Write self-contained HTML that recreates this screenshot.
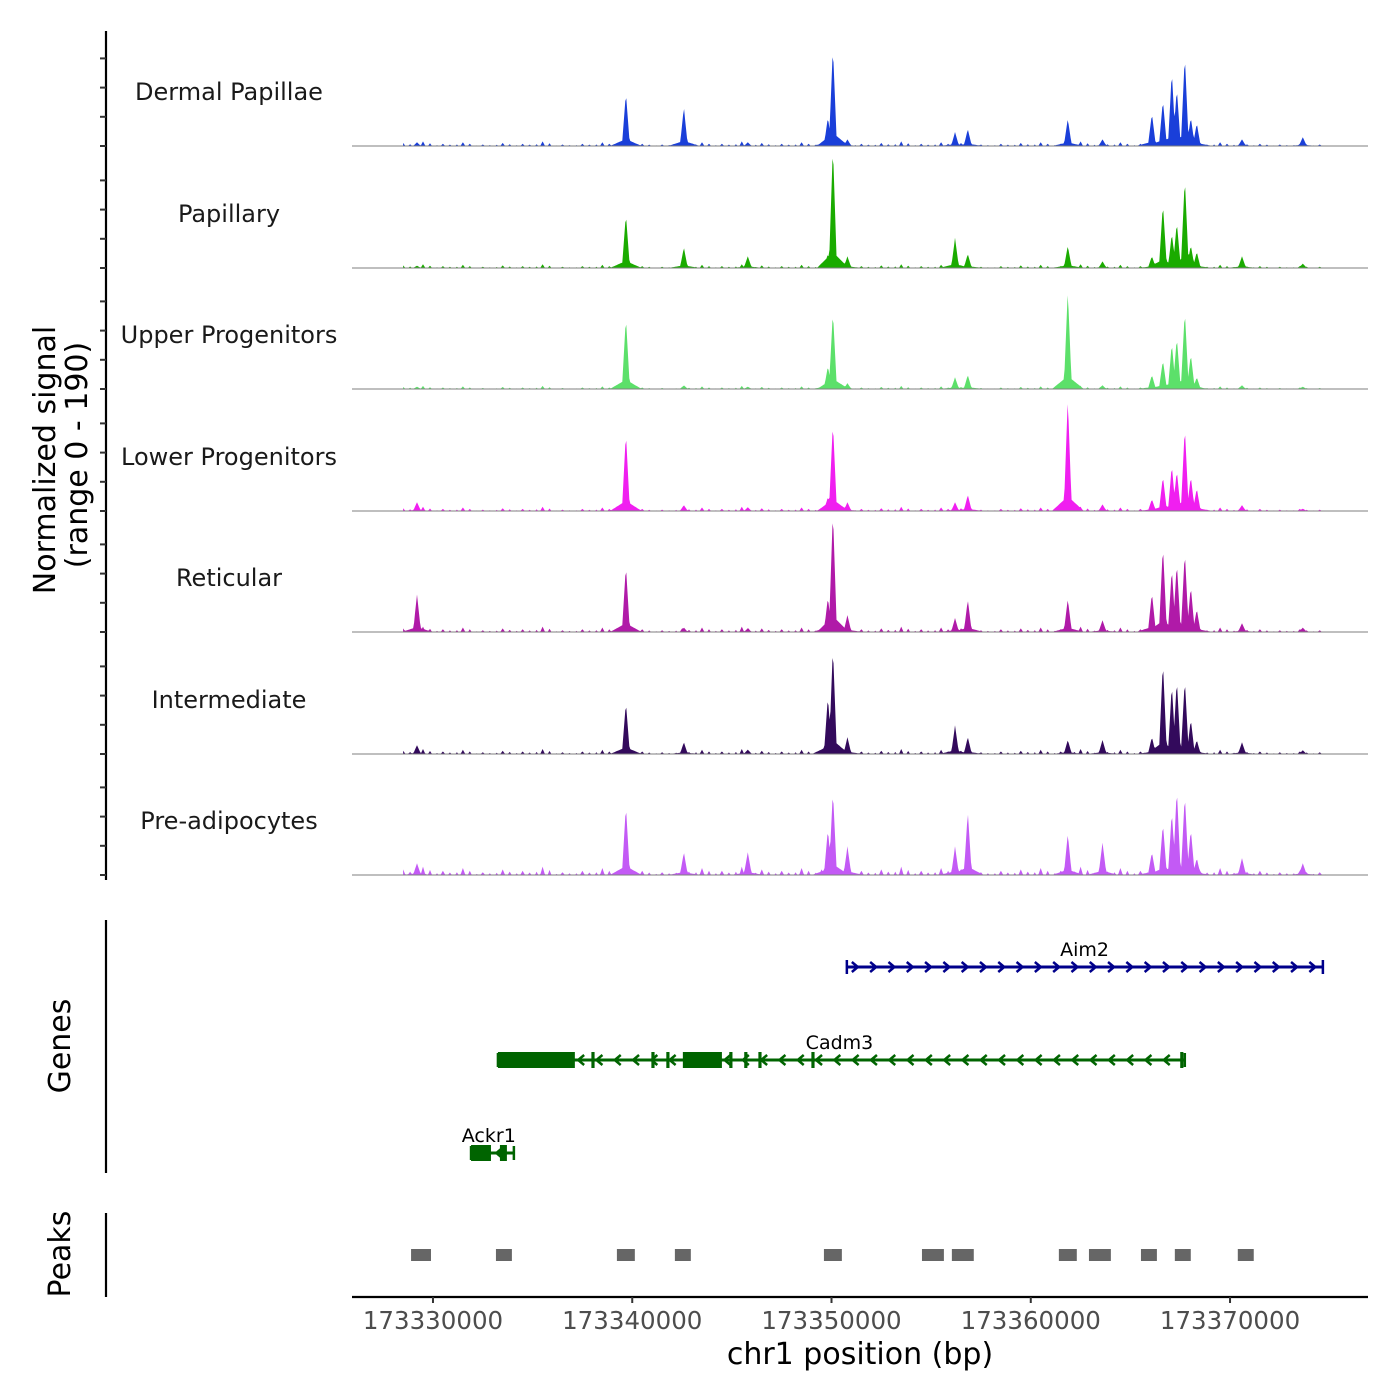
<!DOCTYPE html>
<html><head><meta charset="utf-8">
<style>
html,body{margin:0;padding:0;background:#fff;}
svg{display:block;font-family:"DejaVu Sans","Liberation Sans",sans-serif;}
</style></head>
<body>
<svg id="chart" width="1400" height="1400" viewBox="0 0 1400 1400" xmlns="http://www.w3.org/2000/svg">
<rect width="1400" height="1400" fill="#fff"/>
<g id="tracks"></g>
<g id="yaxis"></g>
<text transform="translate(55,460) rotate(-90)" text-anchor="middle" font-size="30" fill="#000">Normalized signal</text>
<text transform="translate(87,455) rotate(-90)" text-anchor="middle" font-size="30" fill="#000">(range 0 - 190)</text>
<g id="genes"></g>
<line x1="106" y1="920" x2="106" y2="1173" stroke="#000" stroke-width="2.2"/>
<text transform="translate(70,1046) rotate(-90)" text-anchor="middle" font-size="30">Genes</text>
<g id="peaks"></g>
<line x1="106" y1="1213" x2="106" y2="1297" stroke="#000" stroke-width="2.2"/>
<text transform="translate(70,1254) rotate(-90)" text-anchor="middle" font-size="30">Peaks</text>
<g id="xaxis"></g>
<text x="860" y="1364" text-anchor="middle" font-size="30">chr1 position (bp)</text>
</svg>
<script>
// ---- data ----
const xDomain = [173325936, 173376924];
const xTicks = [173330000, 173340000, 173350000, 173360000, 173370000];
const trackNames = ["Dermal Papillae","Papillary","Upper Progenitors","Lower Progenitors","Reticular","Intermediate","Pre-adipocytes"];
const trackColors = ["#1a3fd9","#1aab00","#5ce06a","#f01ff0","#b01aa8","#330a5c","#c35af5"];
// peak positions in kb from 173330000
const peakPos = [-0.8,9.68,12.59,15.8,19.82,20.07,20.8,26.2,26.84,31.86,33.6,36.08,36.63,37.08,37.33,37.73,38.03,38.33,40.6,43.65];
const hDermal = [5,72,53,5,39,134,9,19,23,37,9,44,62,101,78,123,39,31,9,12];
const hPapillary = [3,73,28,16,19,165,16,41,19,30,9,16,87,47,62,122,31,22,16,6];
const hUpper = [3,97,5,3,31,105,8,16,19,134,5,19,39,62,70,106,47,16,5,3];
const hLower = [12,106,8,5,19,120,12,12,22,153,9,16,47,62,55,114,47,31,8,3];
const hReticular = [51,90,6,5,47,164,23,19,44,45,16,53,117,86,94,109,62,31,12,6];
const hIntermediate = [12,70,16,6,78,145,23,39,23,19,19,23,125,94,101,101,47,19,16,5];
const hPre = [16,94,31,31,62,114,39,39,86,56,44,31,70,86,117,109,62,23,23,16];
const trackHeights = [hDermal,hPapillary,hUpper,hLower,hReticular,hIntermediate,hPre];
const bgStart = -1.5;
const background = [4,6,3,5,2,4,3,6,2,3,5,4,3,2,4,5,3,6,4,3,5,4,2,3,4,6,3,5,4,2,3,4,5,3,6,4,5,3,2,4,3,5,4,3,2,3,2];
const bgScale = [1.2,1,0.8,1.1,1.4,1.3,2.2];
const genes = ["Aim2","Cadm3","Ackr1"];
const geneStart = [20.77,3.26,1.91];
const geneEnd = [44.66,37.73,4.06];
const geneStrand = [1,-1,-1];
const geneColors = ["#00008b","#006400","#006400"];
const geneLabelPos = [32.7,20.4,2.8];
const exonGene = [1,1,1,1,1,1,1,1,1,1,2,2];
const exonStart = [3.26,12.54,7.95,10.96,11.71,14.87,15.62,16.33,18.99,37.5,1.91,3.36];
const exonEnd = [7.12,14.5,8.11,11.12,11.87,15.03,15.78,16.49,19.15,37.66,2.91,3.71];
const peakCenters = [-0.6,3.56,9.68,12.54,20.07,25.09,26.59,31.86,33.47,35.93,37.63,40.79];
const peakWidths = [1.0,0.8,0.9,0.8,0.9,1.1,1.1,0.9,1.1,0.8,0.8,0.8];
// ---- scales ----
const NS="http://www.w3.org/2000/svg";
const X0=352,X1=1368;
function xs(bp){return X0+(bp-xDomain[0])/(xDomain[1]-xDomain[0])*(X1-X0);}
function xk(kb){return xs(173330000+kb*1000);}
const baselines=[146,268,389,511,632,754,875];
const yMax=190, trackPx=121.5;
function ys(v,i){return baselines[i]-v/yMax*trackPx;}
function mk(tag,attrs,parent){const e=document.createElementNS(NS,tag);for(const k in attrs)e.setAttribute(k,attrs[k]);parent.appendChild(e);return e;}
// ---- tracks ----
const tg=document.getElementById('tracks');
for(let i=0;i<trackNames.length;i++){
  const g=mk('g',{},tg);
  
  
  const hs=trackHeights[i];
  let pts=[];
  const a=bgStart, b=44.8;
  for(let kb=a;kb<=b;kb+=0.05){
    let v=0;
    for(let p=0;p<peakPos.length;p++){
      const d=Math.abs(kb-peakPos[p]);
      v=Math.max(v,hs[p]*Math.max(0,1-d/0.18)+hs[p]*0.15*Math.max(0,1-d/0.8));
    }
    const bi=Math.round(kb-bgStart);
    if(bi>=0&&bi<background.length){
      const c=bgStart+bi; const d=Math.abs(kb-c);
      v=Math.max(v,background[bi]*bgScale[i]*Math.max(0,1-d/0.12));
      const d2=Math.abs(kb-(c+0.35));
      v=Math.max(v,background[bi]*bgScale[i]*0.6*Math.max(0,1-d2/0.1));
      const d3=Math.abs(kb-(c-0.3));
      v=Math.max(v,background[bi]*bgScale[i]*0.4*Math.max(0,1-d3/0.08));
    }
    pts.push(xk(kb).toFixed(1)+','+ys(v,i).toFixed(1));
  }
  const path='M'+xk(a).toFixed(1)+','+baselines[i]+' L'+pts.join(' L')+' L'+xk(b).toFixed(1)+','+baselines[i]+' Z';
  const area=mk('path',{d:path,fill:trackColors[i]},g);
  
  
  const bl=mk('line',{x1:X0,x2:X1,y1:baselines[i],y2:baselines[i],stroke:'#7f7f7f','stroke-width':1},g);
  
  
  const t=mk('text',{x:229,y:baselines[i]-46,'text-anchor':'middle','font-size':24,fill:'#1a1a1a'},g);
  t.textContent=trackNames[i];
  
  
}
// ---- y axis ----
const ya=document.getElementById('yaxis');
const yl=mk('line',{x1:106,x2:106,y1:31,y2:880,stroke:'#000','stroke-width':2.2},ya);


for(let i=0;i<baselines.length;i++){
  for(let k=0;k<4;k++){
    const y=baselines[i]-k*29.2;
    const tk=mk('line',{x1:100,x2:106,y1:y,y2:y,stroke:'#333','stroke-width':2},ya);
    
    
  }
}
// ---- genes ----
const gg=document.getElementById('genes');
const geneY=[967,1060,1153];
for(let j=0;j<genes.length;j++){
  const g=mk('g',{},gg);
  
  
  const y=geneY[j], c=geneColors[j];
  const x1=xk(geneStart[j]), x2=xk(geneEnd[j]);
  mk('line',{x1:x1,x2:x2,y1:y,y2:y,stroke:c,'stroke-width':3},g);
  mk('line',{x1:x1,x2:x1,y1:y-7,y2:y+7,stroke:c,'stroke-width':2.5},g);
  mk('line',{x1:x2,x2:x2,y1:y-7,y2:y+7,stroke:c,'stroke-width':2.5},g);
  const s=geneStrand[j];
  for(let x=x1+9;x<x2-4;x+=18.3){
    mk('polyline',{points:(x-4*s)+','+(y-5)+' '+(x+2*s)+','+y+' '+(x-4*s)+','+(y+5),fill:'none',stroke:c,'stroke-width':2.5},g);
  }
  const lt=mk('text',{x:xk(geneLabelPos[j]),y:y-11,'text-anchor':'middle','font-size':19,fill:'#000'},g);
  lt.textContent=genes[j];
  
  
}
for(let e=0;e<exonStart.length;e++){
  const j=exonGene[e];
  const r=mk('rect',{x:xk(exonStart[e]),y:geneY[j]-8,width:Math.max(3,xk(exonEnd[e])-xk(exonStart[e])),height:16,fill:geneColors[j]},gg);
  
  
}
// ---- peaks ----
const pg=document.getElementById('peaks');
for(let p=0;p<peakCenters.length;p++){
  const r=mk('rect',{x:xk(peakCenters[p]-peakWidths[p]/2),y:1249,width:xk(peakWidths[p])-xk(0),height:12,fill:'#666666'},pg);
  
  
}
// ---- x axis ----
const xa=document.getElementById('xaxis');
const xl=mk('line',{x1:X0,x2:X1,y1:1297,y2:1297,stroke:'#000','stroke-width':2.2},xa);


for(const t of xTicks){
  const x=xs(t);
  const tk=mk('line',{x1:x,x2:x,y1:1297,y2:1303,stroke:'#333','stroke-width':2},xa);
  
  
  const lb=mk('text',{x:x,y:1329,'text-anchor':'middle','font-size':24.5,fill:'#4d4d4d'},xa);
  lb.textContent=String(t);
  
  
}
</script>
</body></html>
